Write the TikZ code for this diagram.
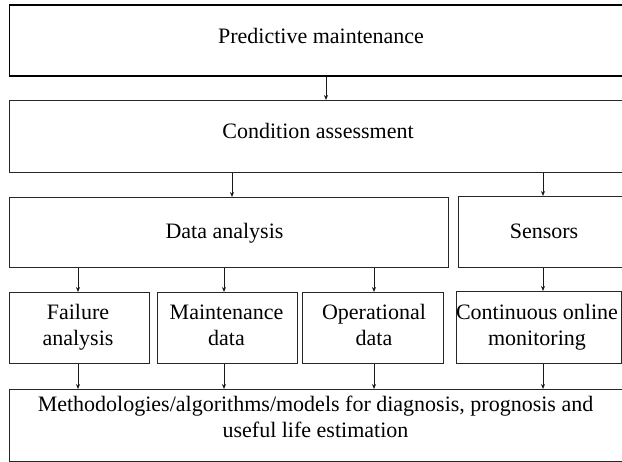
\documentclass[tikz,border=0pt]{standalone}
\usepackage{fontspec}
\setmainfont{Liberation Serif}
\usetikzlibrary{arrows.meta}
\begin{document}
\begin{tikzpicture}[x=1pt,y=-1pt,
  box/.style={draw=black!85, line width=1.2pt, inner sep=0pt, anchor=north west, fill=white},
  topbox/.style={box, draw=black, line width=1.6pt},
  lbl/.style={font=\fontsize{22}{25.5}\selectfont, inner sep=0pt, align=center, text=black},
  arr/.style={draw=black!90, line width=0.8pt, -{Stealth[length=5pt,width=4pt]}}]
\useasboundingbox (0,0) rectangle (622,462);
\clip (0,0) rectangle (622,462);
% boxes
\node[topbox, minimum width=625pt, minimum height=71pt] (pm) at (8.5,4) {};
\node[box, minimum width=625pt, minimum height=72pt] (ca) at (9,100) {};
\node[box, minimum width=439pt, minimum height=70pt] (da) at (9,197) {};
\node[box, minimum width=175pt, minimum height=71pt] (sen) at (458,196) {};
\node[box, minimum width=140pt, minimum height=71pt] (fa) at (9,292) {};
\node[box, minimum width=140pt, minimum height=71pt] (md) at (157,292) {};
\node[box, minimum width=141pt, minimum height=71pt] (od) at (302,292) {};
\node[box, minimum width=165pt, minimum height=72pt] (com) at (456,291) {};
\node[box, minimum width=625pt, minimum height=72pt] (bot) at (9,389) {};
% labels
\node[lbl, anchor=base] (pmt) at (321,44) {Predictive maintenance};
\node[lbl, anchor=base] (cat) at (318,139) {Condition assessment};
\node[lbl, anchor=base] (dat) at (224.5,239) {Data analysis};
\node[lbl, anchor=base] (sent) at (544,239) {Sensors};
\node[lbl] (fat) at (78,327.6) {\strut Failure\\\strut analysis};
\node[lbl] (mdt) at (226.5,327.6) {\strut Maintenance\\\strut data};
\node[lbl] (odt) at (374,327.6) {\strut Operational\\\strut data};
\node[lbl] (comt) at (537,327.6) {\strut Continuous online\\\strut monitoring};
\node[lbl] (bott) at (315.5,419.6) {\strut Methodologies/algorithms/models for diagnosis, prognosis and\\\strut useful life estimation};
% arrow columns
\coordinate (c0) at (326,0);
\coordinate (c1) at (78,0);
\coordinate (c2) at (224,0);
\coordinate (c3) at (232,0);
\coordinate (c4) at (374,0);
\coordinate (c5) at (543,0);
% arrows
\draw[arr] (c0 |- pm.south) -- (c0 |- ca.north);
\draw[arr] (c3 |- ca.south) -- (c3 |- da.north);
\draw[arr] (c5 |- ca.south) -- (c5 |- sen.north);
\draw[arr] (c1 |- da.south) -- (c1 |- fa.north);
\draw[arr] (c2 |- da.south) -- (c2 |- md.north);
\draw[arr] (c4 |- da.south) -- (c4 |- od.north);
\draw[arr] (c5 |- sen.south) -- (c5 |- com.north);
\draw[arr] (c1 |- fa.south) -- (c1 |- bot.north);
\draw[arr] (c2 |- md.south) -- (c2 |- bot.north);
\draw[arr] (c4 |- od.south) -- (c4 |- bot.north);
\draw[arr] (c5 |- com.south) -- (c5 |- bot.north);
\end{tikzpicture}
\end{document}
